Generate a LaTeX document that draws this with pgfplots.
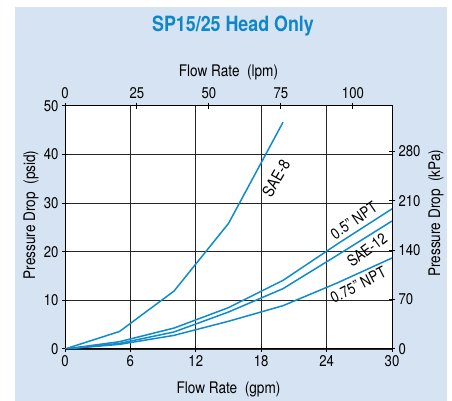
\documentclass[border=0pt]{standalone}
\usepackage{pgfplots}
\pgfplotsset{compat=1.18}
\usepackage{fontspec}
\setmainfont{TeX Gyre Heros}[FakeStretch=0.85]
\definecolor{bgblue}{RGB}{213,227,242}
\definecolor{lineblue}{RGB}{16,140,204}
\definecolor{titleblue}{RGB}{14,134,200}
\begin{document}
\begin{tikzpicture}[x=1pt,y=1pt]
\path[use as bounding box] (-65,-52) rectangle (387,349);
\fill[white] (-65,-52) rectangle (387,349);
\fill[bgblue] (-50,-52) rectangle (382,342);
\node[font=\fontsize{21}{24}\selectfont\bfseries, text=titleblue] at (168,323) {SP15/25 Head Only};
\pgfplotsset{
  common/.style={
    at={(0,0)}, anchor=south west, scale only axis,
    width=327pt, height=243.3pt,
    tick align=center, major tick length=6pt,
    tick style={black, line width=1pt},
    axis line style={black, line width=1pt},
    /pgf/number format/assume math mode=true,
    ticklabel style={font=\fontsize{15.5}{18}\selectfont},
    label style={font=\fontsize{16}{19}\selectfont},
  }
}
\begin{axis}[common,
  xmin=0, xmax=30, ymin=0, ymax=50,
  xtick={0,6,...,30}, ytick={0,10,...,50},
  xtick pos=left, ytick pos=left,
  grid=major, major grid style={black!85, line width=0.9pt},
  axis background/.style={fill=white},
  xlabel={Flow Rate\ \ (gpm)},
  xlabel style={at={(axis description cs:0.5,-0.181)}, anchor=base},
  ylabel={Pressure Drop\ \ (psid)},
  ylabel style={at={(axis description cs:-0.0917,0.551)}, anchor=base},
]
\addplot[lineblue, line width=1.5pt] coordinates {(0,0) (5,3.6) (10,11.9) (15,25.8) (20,46.6)};
\addplot[lineblue, line width=1.5pt] coordinates {(0,0) (5,1.5) (10,4.3) (15,8.5) (20,14.1) (25,21.6) (30,28.8)};
\addplot[lineblue, line width=1.5pt] coordinates {(0,0) (5,1.15) (10,3.5) (15,7.6) (20,12.4) (25,19.3) (30,26.3)};
\addplot[lineblue, line width=1.5pt] coordinates {(0,0) (5,0.95) (10,2.8) (15,5.7) (20,8.9) (25,13.6) (30,18.7)};
\node[font=\fontsize{16}{19}\selectfont, rotate=60] at (axis cs:19.36,35.1) {SAE-8};
\node[font=\fontsize{15.5}{19}\selectfont, rotate=35] at (axis cs:26.5,26.4) {0.5'' NPT};
\node[font=\fontsize{15.5}{19}\selectfont, rotate=37] at (axis cs:27.7,20.4) {SAE-12};
\node[font=\fontsize{15.5}{19}\selectfont, rotate=27] at (axis cs:26.9,13.15) {0.75'' NPT};
\end{axis}
\begin{axis}[common,
  xmin=0, xmax=113.56, ymin=0, ymax=344.74,
  axis x line*=top, axis y line*=right,
  xtick={0,25,...,100}, ytick={0,70,...,280},
  xlabel={Flow Rate\ \ (lpm)},
  xlabel style={at={(axis description cs:0.5,1.122)}, anchor=base},
  ylabel={Pressure Drop\ \ (kPa)},
  ylabel style={at={(axis description cs:1.147,0.558)}, anchor=base},
]
\addplot[draw=none] coordinates {(0,0)};
\end{axis}
\end{tikzpicture}
\end{document}
